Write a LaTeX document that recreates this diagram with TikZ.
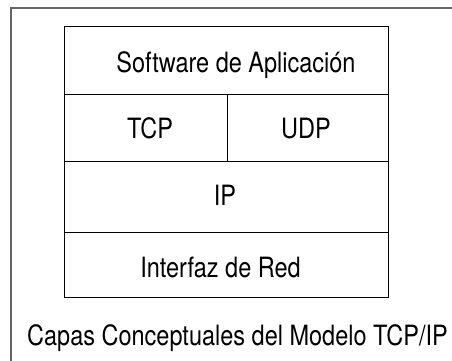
\documentclass[tikz,border=0pt]{standalone}
\usepackage{fontspec}
\usepackage{graphicx}
\setmainfont{TeX Gyre Heros}

\newcommand{\tallword}[1]{\scalebox{1}[1.19]{#1}}

\tikzstyle{layer}=[
    draw,
    line width=1pt,
    inner sep=0pt,
    outer sep=0pt,
  ]
\tikzstyle{layertext}=[
    anchor=base,
    inner sep=0pt,
    font=\fontsize{23.5}{28}\selectfont,
  ]

\begin{document}
\begin{tikzpicture}[x=1pt,y=-1pt]
      \useasboundingbox (0,0) rectangle (452,360);
      \draw[gray!80!black, line width=1.2pt] (11,8) rectangle (455,365);
      % the layers
      \node[layer, minimum width=324pt, minimum height=68pt] (app) at (226,60) {};
      \node[layer, minimum width=163pt, minimum height=67pt] (tcp) at (145.5,127.5) {};
      \node[layer, minimum width=161pt, minimum height=67pt] (udp) at (307.5,127.5) {};
      \node[layer, minimum width=324pt, minimum height=71pt] (ip) at (226,196.5) {};
      \node[layer, minimum width=324pt, minimum height=65pt] (red) at (226,264.5) {};
      \node[layertext] (apptext) at (236,72) {\tallword{Software de Aplicación}};
      \node[layertext] (tcptext) at (150,138) {\tallword{TCP}};
      \node[layertext] (udptext) at (306,138) {\tallword{UDP}};
      \node[layertext] (iptext) at (225,205) {\tallword{IP}};
      \node[layertext] (redtext) at (220.5,277) {\tallword{Interfaz de Red}};
      \node[layertext] (caption) at (237.5,345) {\tallword{Capas Conceptuales del Modelo TCP/IP}};
    \end{tikzpicture}
\end{document}
